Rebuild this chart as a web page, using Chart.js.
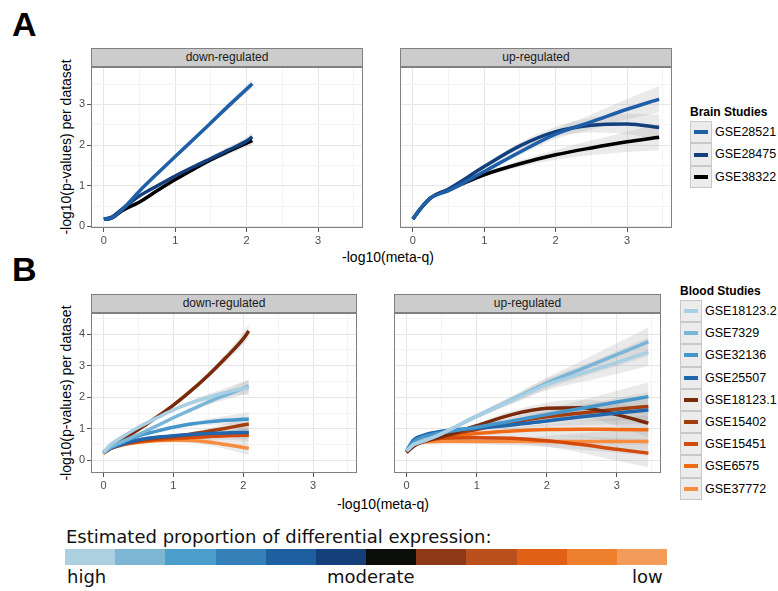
<!DOCTYPE html>
<html>
<head>
<meta charset="utf-8">
<script src="https://cdn.jsdelivr.net/npm/chart.js@4/dist/chart.umd.min.js"></script>
<style>
  body { margin: 0; background: #fff; font-family: "Liberation Sans", Arial, sans-serif; }
  #fig { position: relative; width: 778px; height: 591px; overflow: hidden; }
  #fig canvas { position: absolute; }
  .txt { position: absolute; white-space: nowrap; color: #000; }
  .letter { font-weight: bold; font-size: 34px; }
  .strip { position: absolute; background: #cccccc; border: 1px solid #808080; box-sizing: border-box;
           font-size: 12px; color: #1a1a1a; text-align: center; line-height: 17px; }
  .ytitle { position: absolute; font-size: 14px; transform: translate(-50%, -50%) rotate(-90deg); white-space: nowrap; }
  .xtitle { position: absolute; font-size: 14px; transform: translateX(-50%); white-space: nowrap; }
  .legtitle { position: absolute; font-weight: bold; font-size: 12px; }
  .key { position: absolute; background: #ececec; border: 1px solid #c8c8c8; box-sizing: border-box; }
  .key span { position: absolute; left: 3px; right: 3px; top: 50%; height: 4px; margin-top: -2px; }
  .keylab { position: absolute; font-size: 12.5px; line-height: 22px; }
  .seg { position: absolute; }
  .barlab { position: absolute; font-family: "DejaVu Sans", sans-serif; font-size: 18px; color: #111; }
</style>
</head>
<body>
<div id="fig">
  <div class="txt letter" style="left:12px;top:5px;">A</div>
  <div class="txt letter" style="left:12px;top:250px;">B</div>

  <div class="strip" style="left:91px;top:48px;width:272px;height:19px;">down-regulated</div>
  <div class="strip" style="left:400px;top:48px;width:272px;height:19px;">up-regulated</div>
  <div class="strip" style="left:91px;top:294px;width:266px;height:19px;">down-regulated</div>
  <div class="strip" style="left:394px;top:294px;width:267px;height:19px;">up-regulated</div>

  <div class="ytitle" style="left:66px;top:147px;">-log10(p-values) per dataset</div>
  <div class="ytitle" style="left:66px;top:393px;">-log10(p-values) per dataset</div>
  <div class="xtitle" style="left:388px;top:249px;">-log10(meta-q)</div>
  <div class="xtitle" style="left:383px;top:496px;">-log10(meta-q)</div>

  <canvas id="aDown" width="302" height="181" style="left:61px;top:67px;"></canvas>
  <canvas id="aUp" width="272" height="181" style="left:400px;top:67px;"></canvas>
  <canvas id="bDown" width="296" height="180" style="left:61px;top:313px;"></canvas>
  <canvas id="bUp" width="267" height="180" style="left:394px;top:313px;"></canvas>

  <div id="legA"></div>
  <div id="legB"></div>

  <div class="barlab" style="left:66px;top:526px;">Estimated proportion of differential expression:</div>
  <div id="colorbar"></div>
  <div class="barlab" style="left:67px;top:566px;">high</div>
  <div class="barlab" style="left:327px;top:566px;">moderate</div>
  <div class="barlab" style="left:632px;top:566px;">low</div>
</div>

<script>
// X POSITIONS (-log10 meta-q)
const xDown = [0, 0.1, 0.25, 0.5, 0.75, 1, 1.25, 1.5, 1.75, 2, 2.08];
const xUp = [0, 0.1, 0.25, 0.5, 1, 1.5, 2, 2.5, 3, 3.45];

// BRAIN STUDIES
const brainNames = ["GSE28521", "GSE28475", "GSE38322"];
const brainColors = ["#1e5fa8", "#133f7c", "#000000"];
const brainDown = [
  [0.18, 0.2, 0.4, 0.87, 1.3, 1.72, 2.13, 2.55, 2.97, 3.38, 3.51],
  [0.18, 0.22, 0.42, 0.75, 1.0, 1.24, 1.46, 1.67, 1.88, 2.1, 2.2],
  [0.18, 0.2, 0.38, 0.6, 0.88, 1.15, 1.4, 1.64, 1.85, 2.05, 2.11]
];
const brainUp = [
  [0.18, 0.42, 0.7, 0.88, 1.35, 1.83, 2.27, 2.57, 2.88, 3.13],
  [0.18, 0.42, 0.7, 0.92, 1.47, 1.98, 2.33, 2.49, 2.52, 2.43],
  [0.18, 0.42, 0.7, 0.9, 1.27, 1.54, 1.76, 1.93, 2.08, 2.19]
];
const brainBandDown = [0.05, 0.04, 0.03, 0.03, 0.03, 0.04, 0.05, 0.06, 0.08, 0.1, 0.12];
const brainBandUp = [0.05, 0.04, 0.03, 0.03, 0.05, 0.08, 0.12, 0.18, 0.25, 0.32];

// BLOOD STUDIES
const bloodNames = ["GSE18123.2", "GSE7329", "GSE32136", "GSE25507", "GSE18123.1", "GSE15402", "GSE15451", "GSE6575", "GSE37772"];
const bloodColors = ["#a8cfe3", "#79b5d8", "#4596cb", "#1f66ae", "#7a2a0a", "#a33d0c", "#d44a0a", "#f06a16", "#f88d40"];
const bloodDown = [
  [0.25, 0.5, 0.72, 1.05, 1.33, 1.6, 1.82, 2.0, 2.15, 2.28, 2.3],
  [0.25, 0.42, 0.58, 0.82, 1.08, 1.35, 1.6, 1.85, 2.07, 2.28, 2.35],
  [0.25, 0.4, 0.55, 0.78, 0.92, 1.05, 1.15, 1.22, 1.27, 1.3, 1.31],
  [0.25, 0.38, 0.5, 0.65, 0.73, 0.78, 0.82, 0.85, 0.87, 0.88, 0.88],
  [0.25, 0.45, 0.65, 0.98, 1.35, 1.75, 2.2, 2.7, 3.25, 3.85, 4.1],
  [0.25, 0.38, 0.5, 0.63, 0.7, 0.76, 0.83, 0.92, 1.02, 1.12, 1.15],
  [0.25, 0.38, 0.5, 0.6, 0.66, 0.7, 0.73, 0.76, 0.78, 0.8, 0.8],
  [0.22, 0.38, 0.48, 0.58, 0.64, 0.68, 0.72, 0.76, 0.79, 0.82, 0.82],
  [0.22, 0.38, 0.48, 0.57, 0.62, 0.64, 0.63, 0.58, 0.5, 0.41, 0.38]
];
const bloodUp = [
  [0.3, 0.5, 0.62, 0.85, 1.4, 1.9, 2.4, 2.75, 3.1, 3.44],
  [0.3, 0.5, 0.62, 0.85, 1.4, 1.92, 2.45, 2.9, 3.35, 3.76],
  [0.3, 0.6, 0.75, 0.88, 1.05, 1.25, 1.45, 1.65, 1.85, 2.02],
  [0.3, 0.65, 0.8, 0.92, 1.02, 1.12, 1.25, 1.38, 1.5, 1.6],
  [0.25, 0.45, 0.6, 0.75, 1.1, 1.45, 1.65, 1.67, 1.45, 1.18],
  [0.28, 0.5, 0.62, 0.75, 0.98, 1.2, 1.38, 1.5, 1.62, 1.71],
  [0.25, 0.48, 0.6, 0.7, 0.72, 0.7, 0.62, 0.5, 0.35, 0.23],
  [0.28, 0.5, 0.6, 0.7, 0.85, 0.93, 0.98, 0.99, 0.98, 0.97],
  [0.28, 0.5, 0.58, 0.6, 0.6, 0.6, 0.6, 0.6, 0.6, 0.6]
];
const bloodBandDown = [0.06, 0.04, 0.03, 0.03, 0.04, 0.05, 0.07, 0.1, 0.14, 0.2, 0.22];
const bloodBandUp = [0.06, 0.04, 0.03, 0.04, 0.07, 0.12, 0.18, 0.26, 0.36, 0.45];

// COLOUR BAR
const scaleColors = ["#abd0df", "#7cb6d3", "#4b9fca", "#3580b8", "#1e5fa0", "#143f78",
                     "#0a0d08", "#8e3a18", "#b9501d", "#e06016", "#ee7f2d", "#f39c5a"];

// 🔲 panel border like ggplot theme_bw
const panelBorder = {
  id: "panelBorder",
  afterDraw(chart) {
    const a = chart.chartArea, c = chart.ctx;
    c.save();
    c.strokeStyle = "#808080";
    c.lineWidth = 1;
    c.strokeRect(a.left + 0.5, a.top + 0.5, a.right - a.left - 1, a.bottom - a.top - 1);
    c.restore();
  }
};

function buildDatasets(xs, series, colors, band) {
  const sets = [];
  series.forEach((ys, i) => {
    sets.push({
      data: xs.map((x, k) => ({ x, y: ys[k] })),
      borderColor: colors[i], borderWidth: 3.5, pointRadius: 0,
      cubicInterpolationMode: "monotone", fill: false, order: 1
    });
  });
  series.forEach((ys) => {
    sets.push({
      data: xs.map((x, k) => ({ x, y: ys[k] + band[k] })),
      borderWidth: 0, pointRadius: 0, cubicInterpolationMode: "monotone",
      backgroundColor: "rgba(150,150,150,0.2)", fill: "+1", order: 10
    });
    sets.push({
      data: xs.map((x, k) => ({ x, y: ys[k] - band[k] })),
      borderWidth: 0, pointRadius: 0, cubicInterpolationMode: "monotone",
      fill: false, order: 10
    });
  });
  return sets;
}

const gridColor = (ctx) => Number.isInteger(ctx.tick.value) ? "#e6e6e6" : "#f4f4f4";
const tickMarkColor = (ctx) => Number.isInteger(ctx.tick.value) ? "#555" : "rgba(0,0,0,0)";
const intLabel = (v) => Number.isInteger(v) ? String(v) : "";

function drawPanel(id, xs, series, colors, band, yMin, yMax, showY) {
  new Chart(document.getElementById(id), {
    type: "line",
    data: { datasets: buildDatasets(xs, series, colors, band) },
    plugins: [panelBorder],
    options: {
      responsive: false, animation: false, devicePixelRatio: 1,
      layout: { padding: 0 },
      plugins: { legend: { display: false }, tooltip: { enabled: false } },
      scales: {
        x: {
          type: "linear", min: -0.18, max: 3.63,
          afterFit: (s) => { s.height = 20; s.paddingLeft = 0; s.paddingRight = 0; },
          grid: { color: gridColor, tickColor: tickMarkColor, tickLength: 4 },
          border: { display: false },
          ticks: { stepSize: 0.5, includeBounds: false, autoSkip: false, maxRotation: 0,
                   padding: 2, color: "#4d4d4d", font: { size: 11, family: "Liberation Sans" },
                   callback: intLabel }
        },
        y: {
          type: "linear", min: yMin, max: yMax,
          afterFit: (s) => { s.width = showY ? 30 : 0; s.paddingTop = 0; s.paddingBottom = 0; },
          grid: { color: gridColor, tickColor: tickMarkColor, tickLength: 4, drawTicks: showY },
          border: { display: false },
          ticks: { display: showY, stepSize: 0.5, includeBounds: false, autoSkip: false,
                   padding: 2, color: "#4d4d4d", font: { size: 11, family: "Liberation Sans" },
                   callback: intLabel }
        }
      }
    }
  });
}

drawPanel("aDown", xDown, brainDown, brainColors, brainBandDown, -0.04, 3.92, true);
drawPanel("aUp", xUp, brainUp, brainColors, brainBandUp, -0.04, 3.92, false);
drawPanel("bDown", xDown, bloodDown, bloodColors, bloodBandDown, -0.4, 4.67, true);
drawPanel("bUp", xUp, bloodUp, bloodColors, bloodBandUp, -0.4, 4.67, false);

// 🏷️ LEGENDS
function buildLegend(holderId, title, names, colors, left, titleTop, keyTop, keyW, keyH) {
  const holder = document.getElementById(holderId);
  let html = `<div class="legtitle" style="left:${left}px;top:${titleTop}px;">${title}</div>`;
  names.forEach((n, i) => {
    const top = keyTop + i * keyH;
    html += `<div class="key" style="left:${left}px;top:${top}px;width:${keyW}px;height:${keyH}px;">
               <span style="background:${colors[i]}"></span></div>
             <div class="keylab" style="left:${left + keyW + 3}px;top:${top}px;">${n}</div>`;
  });
  holder.innerHTML = html;
}
buildLegend("legA", "Brain Studies", brainNames, brainColors, 690, 105, 121, 22, 22.4);
buildLegend("legB", "Blood Studies", bloodNames, bloodColors, 680, 284, 300, 22, 22.2);

// 🎨 COLOUR BAR
const bar = document.getElementById("colorbar");
const segW = (667 - 65) / scaleColors.length;
scaleColors.forEach((c, i) => {
  const d = document.createElement("div");
  d.className = "seg";
  d.style.cssText = `left:${65 + i * segW}px;top:549px;width:${segW + 0.5}px;height:16px;background:${c};`;
  bar.appendChild(d);
});
</script>
</body>
</html>
